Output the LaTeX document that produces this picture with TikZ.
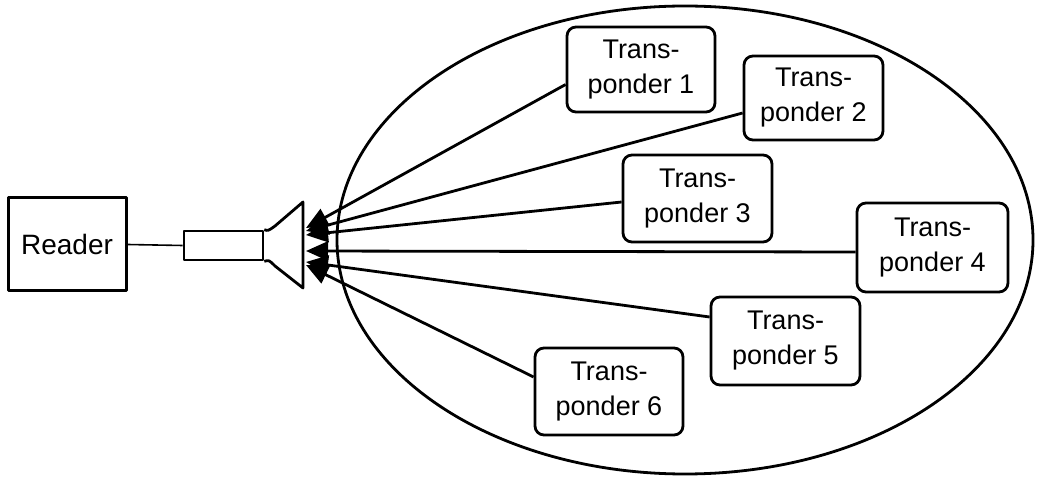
\documentclass[tikz,border=0pt]{standalone}
\usepackage{fontspec}
\setmainfont{Liberation Sans}
\usetikzlibrary{arrows.meta}
\begin{document}
\begin{tikzpicture}[x=1pt,y=-1pt,
  line join=round,
  box/.style={draw,line width=3pt,inner sep=0pt},
  tbox/.style={draw,line width=2.8pt,rounded corners=9pt,inner sep=0pt,
    align=center,font=\fontsize{27}{35}\selectfont},
  link/.style={line width=2.8pt,-{Triangle[length=22pt,width=19pt]}},
  thin/.style={line width=1.6pt}]
\useasboundingbox (0,0) rectangle (1037,478);

% coverage area of the reader antenna
\draw[line width=2.8pt] (685,240) ellipse [x radius=348, y radius=234];

% reader and antenna
\node[box,minimum width=118pt,minimum height=93pt,font=\fontsize{28}{34}\selectfont]
  (reader) at (67,244.5) {Reader};
\node[box,line width=2.6pt,minimum width=79pt,minimum height=29pt] (feed) at (223.5,245.5) {};
\draw[line width=2.8pt] (feed.north east) .. controls (268,231) .. (275,226) -- (303,202)
  -- (303,288) -- (275,266) .. controls (269,260) .. (feed.south east);
\draw[thin] (reader.east) -- (feed.west);

% transponders
\node[tbox,minimum width=148pt,minimum height=85pt] (t1) at (641,69.5) {Trans-\\ponder 1};
\node[tbox,minimum width=139pt,minimum height=84pt] (t2) at (813.5,98) {Trans-\\ponder 2};
\node[tbox,minimum width=149pt,minimum height=87pt] (t3) at (697.5,198.5) {Trans-\\ponder 3};
\node[tbox,minimum width=151pt,minimum height=89pt] (t4) at (932.5,247.5) {Trans-\\ponder 4};
\node[tbox,minimum width=149pt,minimum height=88pt] (t5) at (785.5,341) {Trans-\\ponder 5};
\node[tbox,minimum width=148pt,minimum height=87pt] (t6) at (609,391.5) {Trans-\\ponder 6};

% arrow tips at the antenna mouth
\coordinate (m1) at (306,228);
\coordinate (m2) at (306,231);
\coordinate (m3) at (306,235);
\coordinate (m4) at (306,251);
\coordinate (m5) at (306,262);
\coordinate (m6) at (306,265);

\draw[link] ([yshift=-15pt]t1.west) -- (m1);
\draw[link] ([yshift=-15pt]t2.west) -- (m2);
\draw[link] ([yshift=-3.5pt]t3.west) -- (m3);
\draw[link] ([yshift=-4.5pt]t4.west) -- (m4);
\draw[link] ([yshift=24pt]t5.west) -- (m5);
\draw[link] ([yshift=14.5pt]t6.west) -- (m6);
\end{tikzpicture}
\end{document}
